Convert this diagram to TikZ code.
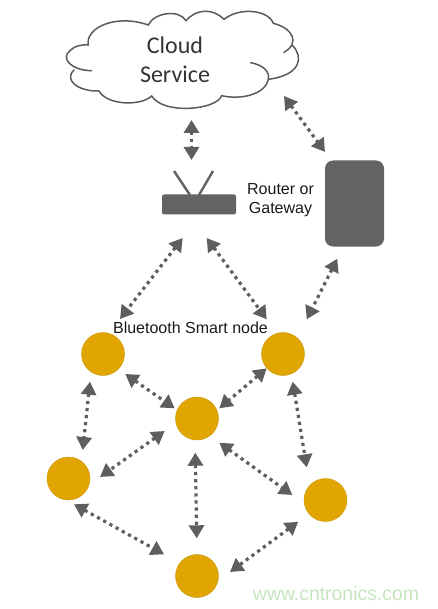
\documentclass[tikz,border=0pt]{standalone}
\usepackage{fontspec}
\setmainfont{Liberation Sans}
\newfontfamily\cloudfont{Carlito}
\usetikzlibrary{arrows.meta,calc}
\definecolor{linkgray}{HTML}{5E5E60}
\definecolor{boxgray}{HTML}{636365}
\definecolor{cloudline}{HTML}{5A5A5A}
\definecolor{nodegold}{HTML}{E0A500}
\definecolor{markgreen}{HTML}{C6E5BE}
\tikzset{
  link/.style={draw=linkgray,line width=3.2pt,dash pattern=on 3.2pt off 3.9pt,
    {Triangle[length=13pt,width=15pt,color=linkgray]}-{Triangle[length=13pt,width=15pt,color=linkgray]}},
  sensor/.style={circle,fill=nodegold,draw=nodegold!90!black,line width=0.4pt,minimum size=43pt,inner sep=0pt},
  cloudtext/.style={font=\cloudfont\fontsize{24}{29}\selectfont,text=black!80,align=center,inner sep=0pt},
  label/.style={font=\fontsize{16}{19}\selectfont,text=black!90,align=center,inner sep=0pt},
  devicebox/.style={fill=boxgray,draw=none,inner sep=0pt}
}
\begin{document}
\begin{tikzpicture}[x=1pt,y=-1pt]
\useasboundingbox (0,0) rectangle (438,609);
% cloud outline
\begin{scope}[x=0.33333pt,y=-0.33333pt,draw=cloudline,line width=1.5pt,line cap=round]
\draw (265,135) .. controls (255,85) and (345,40) .. (445,75)
  .. controls (460,40) and (535,25) .. (558,62)
  .. controls (590,25) and (640,25) .. (672,58)
  .. controls (720,20) and (805,30) .. (820,70)
  .. controls (880,85) and (900,130) .. (852,157);
\draw (878,137) .. controls (910,170) and (905,225) .. (805,238);
\draw (752,188) .. controls (790,195) and (810,215) .. (805,238)
  .. controls (795,285) and (720,300) .. (665,287)
  .. controls (650,330) and (490,345) .. (455,288)
  .. controls (420,320) and (320,315) .. (297,273)
  .. controls (235,275) and (190,240) .. (222,210);
\draw (275,212) .. controls (215,212) and (180,175) .. (210,152)
  .. controls (222,138) and (245,133) .. (265,135);
\end{scope}
\node[cloudtext] (cloud) at (175,60) {Cloud\\Service};
% router
\draw[boxgray,line width=2.4pt] (174,171) -- (190,195);
\draw[boxgray,line width=2.4pt] (213,171) -- (199,195);
\node[devicebox,rounded corners=2pt,minimum width=74pt,minimum height=20pt] (router) at (199,204.5) {};
\node[label] (routerlabel) at (280.5,200.5) {Router or\\Gateway};
% gateway device
\node[devicebox,rounded corners=8pt,minimum width=59pt,minimum height=86pt] (gateway) at (354.5,203.5) {};
% sensor nodes
\node[sensor] (n1) at (103,354) {};
\node[sensor] (n2) at (283,354) {};
\node[sensor] (n3) at (197,418.5) {};
\node[sensor] (n4) at (68.5,478.5) {};
\node[sensor] (n5) at (325.5,500) {};
\node[sensor] (n6) at (197,576) {};
\node[label] (btlabel) at (190.5,328) {Bluetooth Smart node};
\node[font=\fontsize{19.4}{22}\selectfont,text=markgreen,inner sep=0pt] (mark) at (336,594) {www.cntronics.com};
% connectors
\path[link] ($(cloud)+(16.5,60)$) -- ($(router)+(-7.5,-44.5)$);
\path[link] ($(cloud)+(109,36)$) -- ($(gateway)+(-29.5,-51.5)$);
\path[link] ($(router)+(-16.3,33.5)$) -- ($(n1)+(17,-35)$);
\path[link] ($(router)+(7.7,33.5)$) -- ($(n2)+(-16.3,-34.7)$);
\path[link] ($(gateway)+(-17.2,55.2)$) -- ($(n2)+(23.7,-34.7)$);
\path[link] ($(n1)+(22.3,20)$) -- ($(n3)+(-22.3,-10.2)$);
\path[link] ($(n2)+(-16.3,14.3)$) -- ($(n3)+(22.3,-10.2)$);
\path[link] ($(n1)+(-13,27.7)$) -- ($(n4)+(14.2,-28.5)$);
\path[link] ($(n3)+(-32.3,12.5)$) -- ($(n4)+(31.5,-1.5)$);
\path[link] ($(n2)+(9.7,27.7)$) -- ($(n5)+(-18.8,-32.7)$);
\path[link] ($(n3)+(22.3,24.2)$) -- ($(n5)+(-33.2,-5)$);
\path[link] ($(n3)+(-1.7,34.2)$) -- ($(n6)+(-0.3,-37.7)$);
\path[link] ($(n4)+(5.5,25.8)$) -- ($(n6)+(-33,-21.7)$);
\path[link] ($(n5)+(-27.2,21.7)$) -- ($(n6)+(33,-4)$);
\end{tikzpicture}
\end{document}
